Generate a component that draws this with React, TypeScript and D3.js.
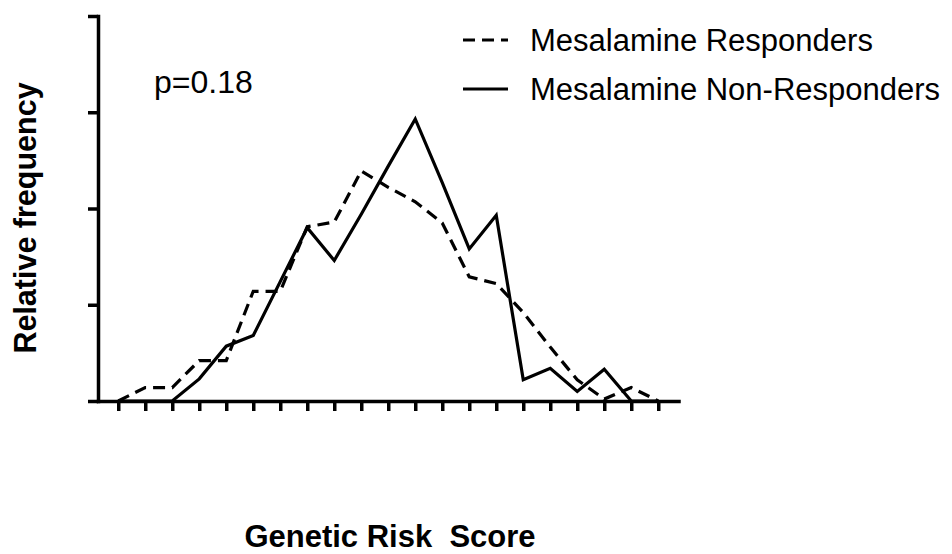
import React, { useEffect, useRef } from "react";
import * as d3 from "d3";

// score bins (tick positions along the x axis)
const bins = d3.range(0, 21);

// relative frequency (%)
const responders = [0, 0.7, 0.7, 2.1, 2.1, 5.7, 5.7, 9.05, 9.3, 11.95, 11.1, 10.35, 9.25, 6.45, 6.1, 4.6, 2.8, 1.1, 0.1, 0.7, 0];
const nonResponders = [0, 0, 0, 1.15, 2.85, 3.4, 6.2, 9.0, 7.3, 9.7, 12.2, 14.65, 11.35, 7.9, 9.65, 1.1, 1.7, 0.5, 1.65, 0, 0];

const yTicks = [0, 5, 10, 15, 20];

const legendItems = [
  { label: "Mesalamine Responders", dash: "12 7" },
  { label: "Mesalamine Non-Responders", dash: "" },
];

const W = 952;
const H = 554;

const App = () => {
  const svgRef = useRef<SVGSVGElement>(null);

  useEffect(() => {
    const svg = d3.select(svgRef.current);
    svg.selectAll("*").remove();

    const x = d3.scaleLinear().domain([-0.75, 20.75]).range([98, 678.5]);
    const y = d3.scaleLinear().domain([0, 20]).range([401, 16]);

    const font = "'Liberation Sans', Arial, sans-serif";

    // axes
    const xAxis = d3.axisBottom(x).tickValues(bins).tickSize(10).tickSizeOuter(0).tickFormat(() => "");
    const gx = svg.append("g").attr("transform", `translate(0,${y(0)})`).call(xAxis);
    const yAxis = d3.axisLeft(y).tickValues(yTicks).tickSize(10).tickSizeOuter(0).tickFormat(() => "");
    const gy = svg.append("g").attr("transform", `translate(${x(-0.75)},0)`).call(yAxis);
    [gx, gy].forEach((g) => {
      g.selectAll("path, line").attr("stroke", "#000").attr("stroke-width", 3.5);
      g.select(".domain").attr("stroke-linecap", "square");
    });

    const line = d3
      .line<number>()
      .x((_, i) => x(bins[i]))
      .y((d) => y(d))
      .curve(d3.curveLinear);

    svg
      .append("path")
      .datum(responders)
      .attr("d", line)
      .attr("fill", "none")
      .attr("stroke", "#000")
      .attr("stroke-width", 3.2)
      .attr("stroke-dasharray", "12 7");

    svg
      .append("path")
      .datum(nonResponders)
      .attr("d", line)
      .attr("fill", "none")
      .attr("stroke", "#000")
      .attr("stroke-width", 3.2)
      .attr("stroke-linejoin", "miter");

    // p value
    svg
      .append("text")
      .attr("x", 154)
      .attr("y", 93)
      .attr("font-family", font)
      .attr("font-size", 32)
      .text("p=0.18");

    // legend
    const lg = svg
      .selectAll(".legend")
      .data(legendItems)
      .join("g")
      .attr("class", "legend")
      .attr("transform", (_, i) => `translate(463,${40 + i * 49})`);
    lg.append("line")
      .attr("x1", 0)
      .attr("x2", 45)
      .attr("stroke", "#000")
      .attr("stroke-width", 3.2)
      .attr("stroke-dasharray", (d) => d.dash);
    lg.append("text")
      .attr("x", 67)
      .attr("y", 11)
      .attr("font-family", font)
      .attr("font-size", 31)
      .text((d) => d.label);

    // axis titles
    svg
      .append("text")
      .attr("transform", `translate(36,${218}) rotate(-90)`)
      .attr("text-anchor", "middle")
      .attr("font-family", font)
      .attr("font-weight", "bold")
      .attr("font-size", 30.5)
      .text("Relative frequency");

    svg
      .append("text")
      .attr("x", 390)
      .attr("y", 547)
      .attr("text-anchor", "middle")
      .attr("font-family", font)
      .attr("font-weight", "bold")
      .attr("font-size", 31)
      .attr("xml:space", "preserve")
      .style("white-space", "pre")
      .text("Genetic Risk  Score");
  }, []);

  return (
    <svg
      ref={svgRef}
      width={W}
      height={H}
      style={{ position: "absolute", left: 0, top: 0, background: "#fff" }}
    />
  );
};

export default App;
